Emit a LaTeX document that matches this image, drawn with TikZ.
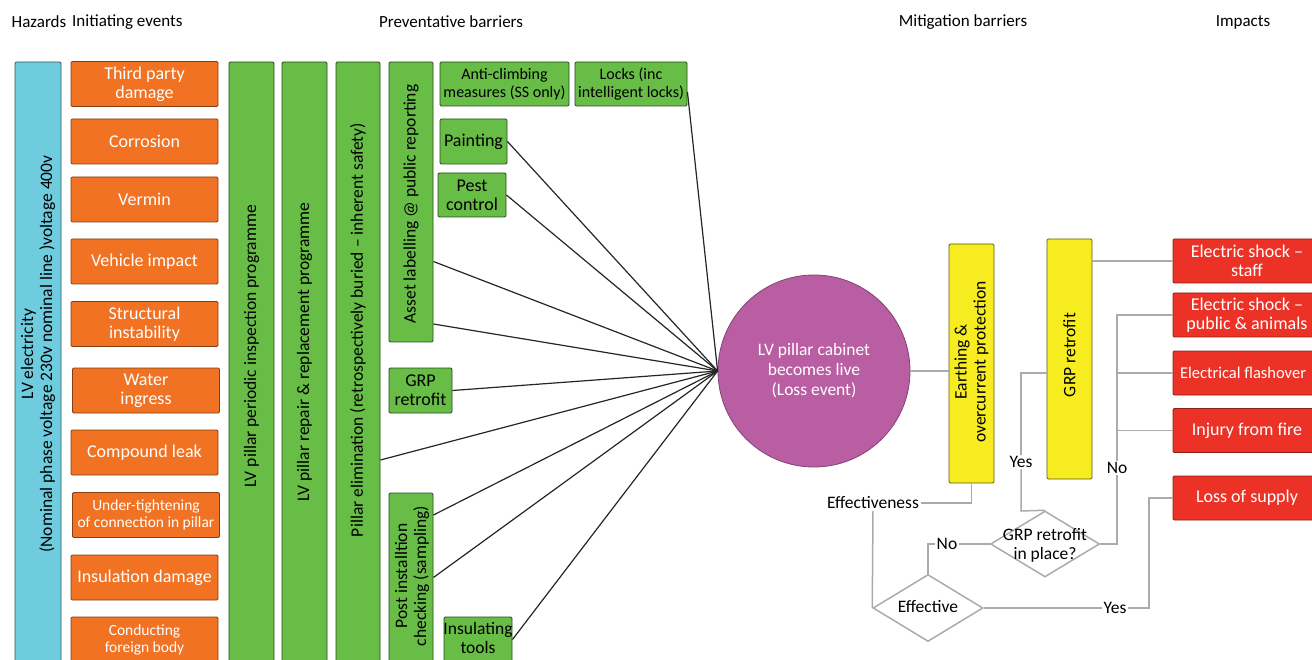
\documentclass[tikz,border=0pt]{standalone}
\usepackage{fontspec}
\setmainfont{Carlito}
\usetikzlibrary{shapes.geometric}
\pgfdeclarelayer{bg}
\pgfsetlayers{bg,main}
\definecolor{hzblue}{RGB}{110,204,222}
\definecolor{evorange}{RGB}{240,114,34}
\definecolor{bgreen}{RGB}{103,189,70}
\definecolor{myellow}{RGB}{246,236,32}
\definecolor{imred}{RGB}{236,50,38}
\definecolor{lossmag}{RGB}{186,94,164}
\tikzset{
 base/.style={draw, line width=0.9pt, rounded corners=1.2pt, inner sep=0pt, align=center, font=\fontsize{18}{19}\selectfont},
 hz/.style={base, fill=hzblue, draw=hzblue!45!black},
 ev/.style={base, fill=evorange, draw=evorange!55!black, text=white, minimum width=147, minimum height=45},
 gb/.style={base, fill=bgreen, draw=bgreen!40!black},
 yb/.style={base, fill=myellow, draw=myellow!40!black},
 rb/.style={base, fill=imred, draw=imred!60!black, text=white, minimum width=148, minimum height=44},
 vtext/.style={rotate=90, align=center, inner sep=0pt, font=\fontsize{17.5}{19}\selectfont},
 ptext/.style={align=center, inner sep=0pt, font=\fontsize{17.5}{19}\selectfont},
 smallf/.style={font=\fontsize{15.5}{17}\selectfont},
 midf/.style={font=\fontsize{16}{17.5}\selectfont},
 hdr/.style={font=\fontsize{17}{19}\selectfont, inner sep=0pt},
 fan/.style={draw=black!85, line width=1.2pt},
 tick/.style={draw=black!30, line width=1pt},
 conn/.style={draw=black!33, line width=1.5pt},
 lbl/.style={fill=white, inner sep=1.5pt, font=\fontsize{17.5}{19}\selectfont},
 dia/.style={diamond, draw=black!33, line width=1.5pt, fill=white, inner sep=0pt},
}
\begin{document}
\begin{tikzpicture}[x=1pt,y=-1pt]
\useasboundingbox (0,0) rectangle (1312,660);
\clip (0,0) rectangle (1312,660);
\fill[white] (0,0) rectangle (1312,660);

% headers
\node[hdr] (h1) at (39,22) {Hazards};
\node[hdr, anchor=west] (h2) at (72,22) {Initiating events};
\node[hdr] (h3) at (451,22) {Preventative barriers};
\node[hdr] (h4) at (963,22) {Mitigation barriers};
\node[hdr] (h5) at (1243,22) {Impacts};

% hazard
\node[hz, minimum width=46, minimum height=628] (hz) at (38,376) {};
\node[vtext] (hzt) at (38,354) {LV electricity\\(Nominal phase voltage 230v nominal line )voltage 400v};

% initiating events
\node[ev] (e1) at (144.5,84) {Third party\\damage};
\node[ev] (e2) at (144.5,141.5) {Corrosion};
\node[ev] (e3) at (144.5,199.5) {Vermin};
\node[ev] (e4) at (144.5,261.5) {Vehicle impact};
\node[ev] (e5) at (144.5,324) {Structural\\instability};
\node[ev] (e6) at (146,390.5) {Water\\ingress};
\node[ev] (e7) at (144.5,452.5) {Compound leak};
\node[ev, smallf] (e8) at (146,515) {Under-tightening\\of connection in pillar};
\node[ev] (e9) at (144.5,577.5) {Insulation damage};
\node[ev, smallf] (e10) at (144.5,639.5) {Conducting\\foreign body};

% preventative barriers
\node[gb, minimum width=45, minimum height=628] (cA) at (251.5,376) {};
\node[vtext] (cAt) at (251.5,346) {LV pillar periodic inspection programme};
\node[gb, minimum width=45, minimum height=628] (cB) at (304.5,376) {};
\node[vtext] (cBt) at (304.5,352) {LV pillar repair \& replacement programme};
\node[gb, minimum width=44, minimum height=628] (cC) at (358,376) {};
\node[vtext] (cCt) at (358,330) {Pillar elimination (retrospectively buried – inherent safety)};
\node[gb, minimum width=44, minimum height=280] (asset) at (411,202) {};
\node[vtext] (assett) at (411,204) {Asset labelling @ public reporting};
\node[gb, midf, minimum width=129, minimum height=44] (anti) at (504.5,84) {Anti-climbing\\measures (SS only)};
\node[gb, midf, minimum width=112, minimum height=44] (locks) at (631,84) {Locks (inc\\intelligent locks)};
\node[gb, minimum width=67, minimum height=45] (paint) at (473.5,141.5) {Painting};
\node[gb, minimum width=68, minimum height=44] (pest) at (472,195) {Pest\\control};
\node[gb, minimum width=63, minimum height=45] (grpg) at (420.5,390.5) {GRP\\retrofit};
\node[gb, minimum width=44, minimum height=197] (post) at (411,591.5) {};
\node[vtext] (postt) at (412,576) {Post installtion\\checking (sampling)};
\node[gb, minimum width=68, minimum height=73] (ins) at (478,653.5) {};
\node[ptext] (inst) at (478,638) {Insulating\\tools};
\coordinate (r7b) at (0,460);

% thin grey row lines behind
\begin{pgfonlayer}{bg}
\draw[tick] (hz.east|-e1) -- (locks.west|-e1);
\draw[tick] (hz.east|-e2) -- (paint.west|-e2);
\draw[tick] (hz.east|-e3) -- (pest.west|-e3);
\draw[tick] (hz.east|-e4) -- (asset.west|-e4);
\draw[tick] (hz.east|-e5) -- (asset.west|-e5);
\draw[tick] (hz.east|-e6) -- (grpg.west|-e6);
\draw[tick] (hz.east|-e7) -- (cC.west|-e7);
\draw[tick] (hz.east|-e8) -- (post.west|-e8);
\draw[tick] (hz.east|-e9) -- (post.west|-e9);
\draw[tick] (hz.east|-e10) -- (ins.west|-e10);
\end{pgfonlayer}

% loss event
\node[circle, fill=lossmag, draw=lossmag!70!black, line width=0.8pt, minimum size=192, inner sep=0pt, text=white, align=center, font=\fontsize{17.5}{20}\selectfont] (loss) at (814,371) {LV pillar cabinet\\becomes live\\(Loss event)};

% fan lines
\draw[fan] ([yshift=-8pt]locks.east) -- (loss.west);
\draw[fan] (paint.east) -- (loss.west);
\draw[fan] (pest.east) -- (loss.west);
\draw[fan] (asset.east|-e4) -- (loss.west);
\draw[fan] (asset.east|-e5) -- (loss.west);
\draw[fan] (grpg.east) -- (loss.west);
\draw[fan] (cC.east|-r7b) -- (loss.west);
\draw[fan] (post.east|-e8) -- (loss.west);
\draw[fan] (post.east|-e9) -- (loss.west);
\draw[fan] (ins.east|-e10) -- (loss.west);

% mitigation barriers
\node[yb, minimum width=45, minimum height=239] (earth) at (971.5,363.5) {};
\node[vtext] (eartht) at (971.5,362) {Earthing \&\\overcurrent protection};
\node[yb, minimum width=45, minimum height=240] (grpy) at (1069.5,359) {};
\node[vtext] (grpyt) at (1069.5,355) {GRP retrofit};

% impacts
\node[rb] (i1) at (1247,261) {Electric shock –\\staff};
\node[rb] (i2) at (1247,315) {Electric shock –\\public \& animals};
\node[rb] (i3) at (1247,373) {};
\node[text=white, inner sep=0pt, font=\fontsize{16.5}{18}\selectfont] (i3t) at (1243,373) {Electrical flashover};
\node[rb] (i4) at (1247,430.5) {Injury from fire};
\node[rb] (i5) at (1247,498) {Loss of supply};

% decisions
\node[dia, minimum width=110, minimum height=67] (effd) at (928,608) {};
\node[ptext] (effdt) at (928,607) {Effective};
\node[dia, minimum width=109, minimum height=66] (grpd) at (1045,544) {};
\node[ptext] (grpdt) at (1045,545) {GRP retrofit\\in place?};

\node[lbl] (effl) at (873,503) {Effectiveness};
\node[lbl] (nol) at (947,544) {No};
\node[lbl] (yes1) at (1021,462) {Yes};
\node[lbl] (no2) at (1117,468) {No};
\node[lbl] (yes2) at (1115,608) {Yes};
\coordinate (ya) at (1021,511);
\coordinate (yb) at (1021,373);
\coordinate (nb) at (1117,544);
\coordinate (yc) at (1149,608);

% grey connectors
\draw[conn] (loss.east) -- (loss.east -| earth.west);
\draw[conn] (grpy.east|-i1) -- (i1.west);
\draw[conn] (earth.south) |- (effl.east);
\draw[conn] (effl.south) -- (effd.west);
\draw[conn] (effd.north) |- (nol.west);
\draw[conn] (nol.east) -- (grpd.west);
\draw[conn] (grpd.north) -- (ya) -- (yes1.south);
\draw[conn] (yes1.north) -- (yb) -- (grpy.west|-yb);
\draw[conn] (grpd.east) -- (nb) -- (no2.south);
\draw[conn] (no2.north) |- (i2.west);
\draw[conn] (i3.west-|nb) -- (i3.west);
\draw[conn] (i4.west-|nb) -- (i4.west);
\draw[conn] (effd.east) -- (yes2.west);
\draw[conn] (yes2.east) -- (yc) |- (i5.west);
\end{tikzpicture}
\end{document}
